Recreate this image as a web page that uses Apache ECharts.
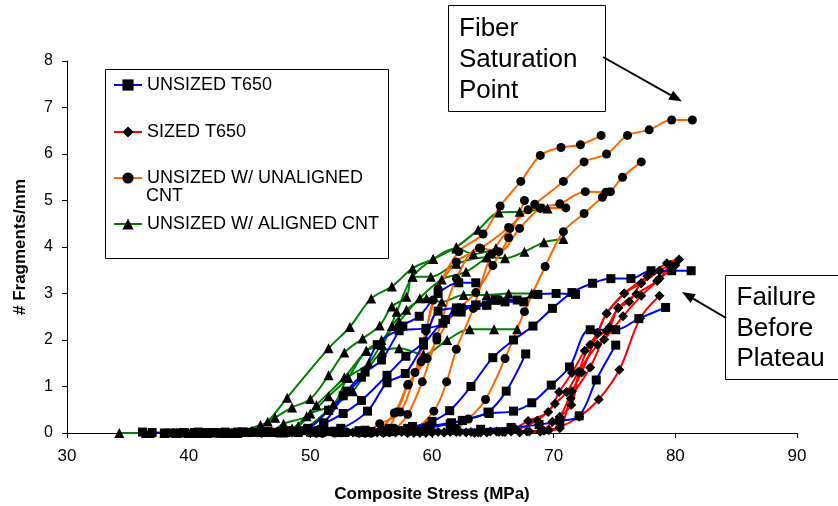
<!DOCTYPE html>
<html><head><meta charset="utf-8">
<script src="https://cdn.jsdelivr.net/npm/echarts@6/dist/echarts.min.js"></script>
<style>html,body{margin:0;padding:0;background:#fff}#c{width:838px;height:506px}</style>
</head><body><div id="c"></div>
<script>
// ---- data: each curve is a list of [stress MPa, fragments/mm] ----
const unsizedT650 = [
  [[36.2,0.02],[38.0,0],[39.6,0.01],[41.3,0],[43.0,0.02],[44.8,0.01],[46.5,0.03],[48.2,0.05],[49.8,0.08],[51.1,0.22],[53.0,0.9],[54.5,1.31],[55.85,1.57],[57.6,2.3],[58.95,2.51],[60.5,3.0],[62.2,3.23],[63.6,3.23]],
  [[37.0,0.01],[39.0,0],[40.8,0.02],[42.6,0],[44.4,0.02],[46.3,0.02],[48.0,0.04],[49.8,0.1],[51.5,0.49],[52.7,0.8],[54.2,1.2],[55.5,1.9],[57.3,2.2],[59.5,2.25],[60.9,2.36],[62.0,2.69],[63.6,2.75],[65.2,2.86],[67.0,2.86],[68.7,2.98],[70.2,3.0],[71.8,2.98]],
  [[38.5,0],[40.5,0.01],[42.2,0],[44.0,0.02],[45.8,0.01],[47.6,0.03],[49.5,0.05],[51.1,0.2],[52.7,0.42],[54.2,0.7],[56.3,1.24],[57.85,1.65],[59.3,1.96],[60.5,2.62],[62.4,2.69],[64.5,2.75],[65.4,2.86],[66.0,2.82],[67.55,2.82]],
  [[39.5,0],[41.5,0.01],[43.5,0],[45.5,0.02],[47.3,0.01],[49.0,0.03],[50.8,0.05],[52.5,0.1],[54.7,0.47],[56.3,1.08],[57.8,1.28],[59.3,1.89],[61.1,2.44],[62.4,2.6],[63.6,2.75],[64.5,2.75],[65.2,2.86]],
  [[40.5,0.01],[42.5,0],[44.5,0.02],[46.5,0.01],[48.5,0.03],[50.5,0.04],[52.5,0.05],[54.5,0.06],[56.5,0.1],[58.4,0.14],[60.0,0.25],[61.45,0.48],[63.2,1.0],[65.0,1.62],[66.7,2.0],[68.3,2.3],[69.9,2.68],[71.5,3.02],[73.2,3.22],[74.7,3.32],[76.35,3.32],[78.0,3.49],[79.7,3.49],[81.3,3.49]],
  [[42,0.01],[44,0],[46,0.02],[48,0.01],[50,0.03],[52,0.04],[54,0.05],[56,0.06],[58,0.1],[59.8,0.15],[61.6,0.22],[62.5,0.27],[64.7,0.42],[66.7,0.47],[68.2,0.65],[69.8,1.03],[71.3,1.42],[73.0,2.22],[75.1,2.22],[77.0,2.46],[79.2,2.7]],
  [[44,0],[46.5,0.02],[49,0.01],[51.5,0.03],[54,0.02],[56.5,0.03],[59,0.04],[61.5,0.06],[64,0.08],[66.5,0.12],[68.8,0.18],[70.5,0.26],[72.1,0.37],[73.5,1.14],[75.1,1.89]],
  [[45,0.01],[47.5,0],[50,0.02],[52.5,0.01],[55,0.03],[57.5,0.05],[59.5,0.1],[61.5,0.2],[62.5,0.27],[64.6,0.45],[66.1,0.9],[67.7,1.7]]
];
const sizedT650 = [
  [[46,0],[48.5,0.01],[51,0],[53.5,0.01],[56,0],[58.5,0.02],[61,0.01],[63.2,0.02],[65.3,0.03],[66.8,0.1],[67.9,0.26],[69.55,0.45],[70.45,0.88],[71.5,1.29],[72.55,1.77],[73.6,2.15],[74.35,2.57],[75.8,3.0],[77.7,3.37],[79.3,3.65],[80.3,3.73]],
  [[48,0.01],[50.5,0],[53,0.02],[55.5,0.01],[58,0],[60.5,0.02],[62.8,0.01],[64.8,0.03],[66.5,0.05],[68.65,0.27],[70.1,0.63],[71.06,0.88],[72.0,1.31],[73.0,1.9],[74.6,2.28],[75.3,2.69],[76.8,2.99],[78.5,3.27],[80.0,3.61]],
  [[50,0],[52.5,0.01],[55,0],[57.5,0.02],[60,0.01],[62.3,0.02],[64.5,0.01],[66.5,0.03],[68.9,0.04],[69.9,0.24],[71.45,0.6],[72.1,1.31],[73.6,1.9],[74.15,2.01],[75.7,2.51],[77.2,2.95],[78.7,3.32],[79.5,3.6]],
  [[52,0.01],[54.5,0],[57,0.01],[59.5,0],[62,0.02],[64,0.01],[66,0.02],[68,0.03],[69.6,0.06],[70.5,0.1],[71.4,0.74],[73.0,1.41],[74.35,2.2],[75.3,2.69],[76.2,2.82],[77.2,3.22],[78.7,3.49],[79.6,3.62]],
  [[54,0],[56.5,0.01],[59,0],[61.5,0.02],[63.8,0.01],[65.8,0.02],[67.8,0.03],[69.2,0.05],[70.5,0.35],[71.5,0.9],[72.3,1.3],[73.6,2.15],[74.35,2.57],[75.8,3.0],[77.2,3.22],[78.7,3.49]],
  [[56,0.01],[58.5,0],[61,0.01],[63.5,0],[65.5,0.02],[67.2,0.01],[68.9,0.03],[70.5,0.13],[72.1,0.35],[73.7,0.72],[75.4,1.36],[77.1,2.46],[78.7,2.95]]
];
const unalignedCNT = [
  [[48,0],[50,0.01],[52,0],[54,0.01],[56,0.02],[57.1,0.45],[58.05,1.05],[59.1,1.53],[60.1,2.86],[62.0,3.68],[64.0,3.97],[66.3,4.42],[68.45,4.92],[70.8,5.41],[72.5,5.83],[74.35,6.0],[76.07,6.4],[77.85,6.52],[79.7,6.73],[81.4,6.73]],
  [[49,0.01],[51,0],[53,0.01],[54.5,0.03],[55.7,0.2],[57.4,0.45],[58.6,1.3],[59.5,2.2],[60.5,3.1],[62.2,3.9],[64.2,4.28],[65.6,4.88],[67.3,5.41],[68.9,5.97],[70.6,6.14],[72.2,6.2],[73.9,6.4]],
  [[50.5,0],[52.5,0.01],[54.5,0],[56.5,0.02],[58.2,0.05],[60.15,0.47],[61.2,1.1],[62.0,1.8],[63.4,2.68],[64.9,3.85],[66.4,4.4],[67.9,4.8],[69.0,4.84],[71.0,4.84]],
  [[52,0.01],[54,0],[56,0.01],[58,0.02],[60,0.03],[62,0.1],[63.0,0.3],[64.4,0.72],[66.0,1.6],[67.6,2.61],[69.3,3.58],[70.8,4.33],[72.5,4.72],[74.0,5.07],[74.67,5.19],[75.66,5.5],[77.2,5.83]],
  [[51,0],[53,0.01],[55,0.02],[56.9,0.1],[58.0,0.4],[59.2,1.1],[60.4,2.07],[62.0,3.32],[63.9,3.98],[65.5,3.9],[67.2,4.4],[68.9,4.83],[70.5,4.93],[72.6,5.19],[74.3,5.18]],
  [[53,0.01],[55,0],[56.9,0.43],[58.0,1.03],[59.6,1.6],[60.4,2.0],[61.9,2.6],[63.6,3.02],[65.0,3.6],[66.3,4.2],[67.6,5.0]]
];
const alignedCNT = [
  [[34.3,0],[36.5,0],[39,0],[41.5,0],[43.5,0],[45.2,0.05],[46.5,0.25],[48.1,0.76],[51.5,1.82],[53.25,2.28],[55.0,2.89],[56.7,3.15],[58.4,3.54],[60.1,3.74],[62.0,4.0],[63.8,4.37],[65.5,4.74],[67.2,4.76],[69.5,4.83]],
  [[36.8,0],[40,0],[43,0],[45.9,0.17],[47.1,0.33],[48.5,0.55],[50,0.73],[51.5,1.24],[52.8,1.73],[54.3,2.03],[55.7,2.31],[56.7,2.72],[57.9,2.93],[58.4,3.36],[59.9,3.36],[62.0,3.64],[64.5,3.78],[66.0,3.76],[67.6,3.9],[69.2,4.1],[70.8,4.17]],
  [[38,0],[41,0],[44,0],[46.8,0.05],[47.8,0.2],[49.7,0.36],[51.5,0.79],[53.1,1.19],[54.6,1.77],[55.9,1.89],[57.1,2.61],[58.4,3.36],[60.1,3.74],[62.0,3.97],[63.4,3.85],[65.25,3.97]],
  [[39,0],[43,0],[46,0.02],[48.5,0.1],[50,0.42],[51.9,0.62],[53.1,1.19],[54.8,1.5],[56.7,2.3],[57.9,2.65],[59.55,2.9],[60.8,2.82],[62.6,2.97],[64.5,2.97],[66.3,3.0],[68.2,3.0]],
  [[40,0],[44,0],[47,0.02],[49.5,0.1],[51.5,0.5],[53.5,0.9],[55.9,1.75],[57.3,1.82],[59.3,1.69],[61.25,2.0],[63.1,2.23],[65.1,2.23],[67.0,2.23]],
  [[40.5,0],[44,0],[46.5,0.03],[49,0.15],[50.5,0.6],[52.8,1.2],[54.6,1.77],[55.85,2.0],[57.3,2.4],[59.0,2.9],[60.8,3.3],[62.8,3.47],[64.5,3.78],[65.25,3.97]]
];
const groupNames = ['UNSIZED T650','SIZED T650','UNSIZED W/ UNALIGNED CNT','UNSIZED W/ ALIGNED CNT'];
const groupColors = ['#0000FF','#FF0000','#FF6600','#008000'];
const groupSymbols = ['rect','diamond','circle','triangle'];
const groupSymbolSizes = [9,10,9,10];
const xTicks = {min:30, max:90, interval:10};
const yTicks = {min:0, max:8, interval:1};

// ---- build series ----
const groups = [unsizedT650, sizedT650, unalignedCNT, alignedCNT];
const series = [];
[3,2,1,0].forEach(function(g){
  groups[g].forEach(function(curve){
    series.push({
      name: groupNames[g], type:'line', data: curve, smooth:0.35,
      symbol: groupSymbols[g], symbolSize: groupSymbolSizes[g],
      showAllSymbol:true,
      lineStyle:{color:groupColors[g], width:2},
      itemStyle:{color:'#000', borderWidth:0},
      emphasis:{disabled:true}, z:2
    });
  });
});
const FONT = '"Liberation Sans", Arial, sans-serif';
const legendTops = [76, 123, 169, 215];
const legends = groupNames.map(function(n,i){
  return {
    data:[n], left:113, top:legendTops[i], orient:'vertical',
    itemWidth:28, itemHeight:14, selectedMode:false, padding:0,
    formatter: function(name){ return name==='UNSIZED W/ UNALIGNED CNT' ? 'UNSIZED W/ UNALIGNED' : name; },
    textStyle:{fontFamily:FONT, fontSize:18, color:'#000'}, z:20
  };
});
function arrow(x1,y1,x2,y2){
  const dx=x2-x1, dy=y2-y1, L=Math.sqrt(dx*dx+dy*dy), ux=dx/L, uy=dy/L;
  const hl=13, hw=5, bx=x2-ux*hl, by=y2-uy*hl;
  return [
    {type:'line', shape:{x1:x1,y1:y1,x2:bx,y2:by}, style:{stroke:'#000', lineWidth:2}, z:30},
    {type:'polygon', shape:{points:[[x2,y2],[bx-uy*hw,by+ux*hw],[bx+uy*hw,by-ux*hw]]}, style:{fill:'#000'}, z:30}
  ];
}
const graphics = [
  {type:'rect', shape:{x:105.5,y:69.5,width:283,height:189}, style:{fill:'#fff', stroke:'#000', lineWidth:1}, z:10},
  {type:'text', left:146, top:187, style:{text:'CNT', font:'18px '+FONT, fill:'#000'}, z:21},
  {type:'rect', shape:{x:448.5,y:5.5,width:157,height:106}, style:{fill:'#fff', stroke:'#000', lineWidth:1}, z:25},
  {type:'text', x:459, y:13.5, style:{text:'Fiber\nSaturation\nPoint', font:'26px '+FONT, lineHeight:31, fill:'#000', verticalAlign:'top'}, z:26},
  {type:'rect', shape:{x:725.5,y:275.5,width:118,height:104}, style:{fill:'#fff', stroke:'#000', lineWidth:1}, z:25},
  {type:'text', x:736.5, y:283, style:{text:'Failure\nBefore\nPlateau', font:'26px '+FONT, lineHeight:30.5, fill:'#000', verticalAlign:'top'}, z:26}
].concat(arrow(603,57,682,101.5)).concat(arrow(726,318,682,292));

const option = {
  animation:false,
  backgroundColor:'#fff',
  grid:{left:67, right:41, top:61, bottom:73, containLabel:false, outerBoundsMode:'none'},
  xAxis:{type:'value', min:xTicks.min, max:xTicks.max, interval:xTicks.interval,
    name:'Composite Stress (MPa)', nameLocation:'middle', nameGap:53,
    nameTextStyle:{fontFamily:FONT, fontSize:17, fontWeight:'bold', color:'#000'},
    axisLine:{lineStyle:{color:'#000', width:1}}, axisTick:{show:true, inside:false, length:5, lineStyle:{color:'#000'}},
    axisLabel:{fontFamily:FONT, fontSize:17, color:'#000', margin:15}, splitLine:{show:false}},
  yAxis:{type:'value', min:yTicks.min, max:yTicks.max, interval:yTicks.interval,
    name:'# Fragments/mm', nameLocation:'middle', nameGap:38, nameRotate:90,
    nameTextStyle:{fontFamily:FONT, fontSize:17, fontWeight:'bold', color:'#000'},
    axisLine:{show:true, lineStyle:{color:'#000', width:1}}, axisTick:{show:true, inside:false, length:5, lineStyle:{color:'#000'}},
    axisLabel:{fontFamily:FONT, fontSize:16, color:'#000', margin:14}, splitLine:{show:false}},
  legend: legends,
  series: series,
  graphic: graphics
};
const chart = echarts.init(document.getElementById('c'), null, {renderer:'canvas'});
chart.setOption(option);
</script></body></html>
